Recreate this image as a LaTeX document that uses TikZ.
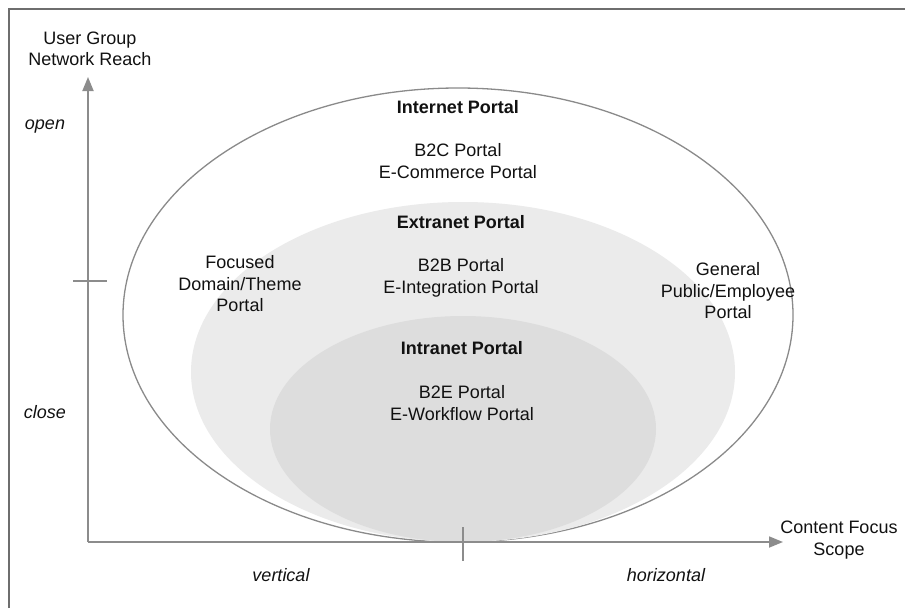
\documentclass[tikz,border=0pt]{standalone}
\usepackage{fontspec}
\setmainfont{Liberation Sans}
\usetikzlibrary{arrows.meta}

\definecolor{axisgray}{HTML}{8C8C8C}
\definecolor{framegray}{HTML}{6E6E6E}
\definecolor{ringgray}{HTML}{8A8A8A}
\definecolor{extrafill}{HTML}{EBEBEB}
\definecolor{intrafill}{HTML}{DDDDDD}
\definecolor{inkcol}{HTML}{111111}

\tikzset{
  label text/.style={font=\fontsize{18}{21.5}\selectfont, text=inkcol, align=center, inner sep=0pt},
  title text/.style={label text, font=\fontsize{18}{21.5}\selectfont\bfseries},
  side text/.style={label text, font=\fontsize{18}{21.5}\selectfont\itshape},
  axis line/.style={draw=axisgray, line width=1.8pt, -{Triangle[length=14pt,width=11pt]}},
  tick line/.style={draw=axisgray, line width=1.8pt},
}

\begin{document}
\begin{tikzpicture}[x=1pt, y=-1pt]
\useasboundingbox (0,0) rectangle (905,608);

% outer frame (left and top edges)
\draw[framegray, line width=1.6pt] (9,608) -- (9,9) -- (905,9);

% nested portal ellipses
\draw[ringgray, line width=1.3pt, fill=white] (458,315) ellipse [x radius=335pt, y radius=227pt];
\fill[extrafill] (463,372) ellipse [x radius=272pt, y radius=170pt];
\fill[intrafill] (463,429) ellipse [x radius=193pt, y radius=113pt];

% axes
\coordinate (origin) at (88,542);
\coordinate (ytip) at (88,77);
\coordinate (xtip) at (783,542);
\draw[axis line] (origin) -- (ytip);
\draw[axis line] (origin) -- (xtip);

% ticks
\coordinate (ytickL) at (73,281);
\coordinate (ytickR) at (107,281);
\coordinate (xtickT) at (463,527);
\coordinate (xtickB) at (463,561);
\draw[tick line] (ytickL) -- (ytickR);
\draw[tick line] (xtickT) -- (xtickB);

% axis titles
\node[label text] (ytitle) at (90,49) {User Group\\Network Reach};
\node[label text] (xtitle) at (839,540) {Content Focus\\Scope};

% axis value labels
\node[side text] (open) at (45,127) {open};
\node[side text] (close) at (45,412) {close};
\node[side text] (vert) at (281,575) {vertical};
\node[side text] (horiz) at (666,575) {horizontal};

% internet portal
\node[title text] (internet) at (458,107) {Internet Portal};
\node[label text] (b2c) at (458,161) {B2C Portal\\E-Commerce Portal};

% extranet portal
\node[title text] (extranet) at (461,222) {Extranet Portal};
\node[label text] (b2b) at (461,278) {B2B Portal\\E-Integration Portal};

% intranet portal
\node[title text] (intranet) at (462,348) {Intranet Portal};
\node[label text] (b2e) at (462,403) {B2E Portal\\E-Workflow Portal};

% side portal types
\node[label text] (focused) at (240,284) {Focused\\Domain/Theme\\Portal};
\node[label text] (general) at (728,291) {General\\Public/Employee\\Portal};
\end{tikzpicture}
\end{document}
